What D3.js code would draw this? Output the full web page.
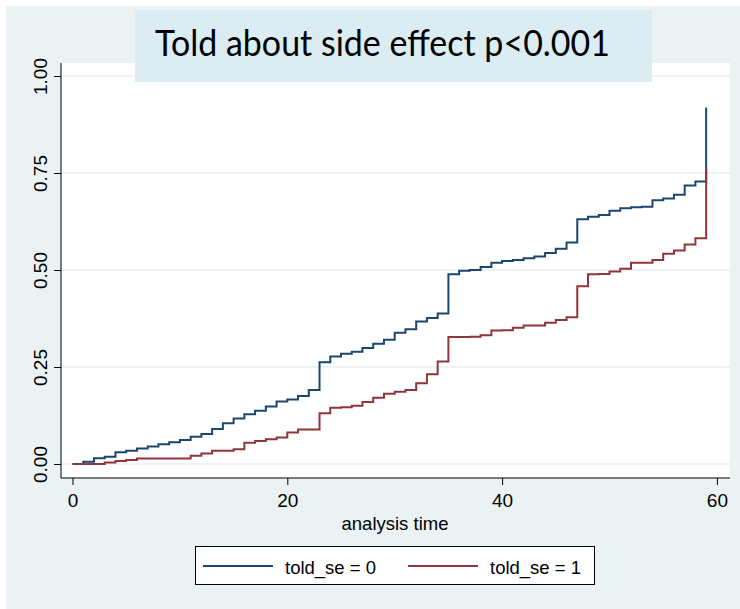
<!DOCTYPE html>
<html>
<head>
<meta charset="utf-8">
<script src="https://cdn.jsdelivr.net/npm/d3@7"></script>
<style>
  body { margin: 0; background: #ffffff; }
  svg { display: block; }
</style>
</head>
<body>
<svg id="chart" width="740" height="609"></svg>
<script>
// analysis time (months)
const times = d3.range(0, 60);

// failure estimates, told_se = 0
const told0 = [0, 0.006, 0.015, 0.019, 0.030, 0.034, 0.040, 0.045, 0.051, 0.056,
  0.062, 0.070, 0.077, 0.090, 0.105, 0.117, 0.128, 0.137, 0.148, 0.161,
  0.166, 0.175, 0.191, 0.262, 0.277, 0.284, 0.289, 0.299, 0.310, 0.320,
  0.338, 0.347, 0.367, 0.376, 0.388, 0.489, 0.498, 0.500, 0.508, 0.519,
  0.523, 0.526, 0.530, 0.535, 0.544, 0.555, 0.571, 0.631, 0.637, 0.642,
  0.653, 0.659, 0.662, 0.663, 0.680, 0.684, 0.694, 0.718, 0.728, 0.919];

// failure estimates, told_se = 1
const told1 = [0, 0, 0, 0.004, 0.008, 0.010, 0.014, 0.014, 0.014, 0.014,
  0.014, 0.021, 0.027, 0.034, 0.034, 0.038, 0.055, 0.059, 0.064, 0.068,
  0.081, 0.089, 0.089, 0.131, 0.145, 0.146, 0.150, 0.160, 0.171, 0.181,
  0.186, 0.191, 0.208, 0.231, 0.264, 0.327, 0.327, 0.328, 0.332, 0.344,
  0.345, 0.351, 0.357, 0.357, 0.364, 0.371, 0.378, 0.458, 0.489, 0.490,
  0.496, 0.503, 0.519, 0.519, 0.526, 0.542, 0.550, 0.566, 0.582, 0.760];

const xTicks = [0, 20, 40, 60];
const yTicks = [0, 0.25, 0.5, 0.75, 1];
const seriesNames = ["told_se = 0", "told_se = 1"];
const seriesColors = ["#1a476f", "#90353b"];
const titleText = "Told about side effect p<0.001";

const svg = d3.select("#chart");
const axisFont = "'Liberation Sans', Arial, sans-serif";

// graph region
svg.append("rect")
  .attr("x", 6).attr("y", 6)
  .attr("width", 734).attr("height", 603)
  .attr("fill", "#eaf2f3");

// plot region
const plot = {left: 61, top: 63, right: 730, bottom: 478};
svg.append("rect")
  .attr("x", plot.left).attr("y", plot.top)
  .attr("width", plot.right - plot.left)
  .attr("height", plot.bottom - plot.top)
  .attr("fill", "#ffffff");

const x = d3.scaleLinear().domain([0, 60]).range([72.5, 716.9]);
const y = d3.scaleLinear().domain([0, 1]).range([464, 76]);

// gridlines
svg.append("g")
  .selectAll("line")
  .data(yTicks)
  .join("line")
    .attr("x1", plot.left).attr("x2", plot.right)
    .attr("y1", d => y(d)).attr("y2", d => y(d))
    .attr("stroke", "#e8eff1")
    .attr("stroke-width", 1.5);

// title box (drawn over the top of the plot)
svg.append("rect")
  .attr("x", 135).attr("y", 10)
  .attr("width", 517).attr("height", 72)
  .attr("fill", "#dbecf2");

svg.append("text")
  .attr("x", 155)
  .attr("y", 56)
  .attr("textLength", 455)
  .attr("lengthAdjust", "spacingAndGlyphs")
  .style("font-family", "Lato, 'Open Sans', sans-serif")
  .style("font-size", "37px")
  .attr("fill", "#000000")
  .text(titleText);

// step curves
const line = d3.line()
  .curve(d3.curveStepAfter)
  .x(d => x(d[0]))
  .y(d => y(d[1]));

[told0, told1].forEach(function(vals, i) {
  svg.append("path")
    .datum(times.map((t, j) => [t, vals[j]]))
    .attr("fill", "none")
    .attr("stroke", seriesColors[i])
    .attr("stroke-width", 2)
    .attr("d", line);
});

// y axis
const yAxis = d3.axisLeft(y)
  .tickValues(yTicks)
  .tickSize(7)
  .tickFormat(d3.format(".2f"));

const gy = svg.append("g")
  .attr("transform", "translate(" + plot.left + ",0)")
  .call(yAxis);
gy.select(".domain")
  .attr("d", "M0," + plot.top + "V" + plot.bottom)
  .attr("stroke", "#000");
gy.selectAll(".tick line").attr("stroke", "#000");
gy.selectAll(".tick text")
  .attr("x", 0).attr("dy", null)
  .attr("transform", "translate(-21,0) rotate(-90)")
  .attr("text-anchor", "middle")
  .attr("dominant-baseline", "central")
  .style("font-family", axisFont)
  .style("font-size", "19px")
  .attr("fill", "#000");

// x axis
const xAxis = d3.axisBottom(x)
  .tickValues(xTicks)
  .tickSize(7)
  .tickFormat(d3.format("d"));

const gx = svg.append("g")
  .attr("transform", "translate(0," + plot.bottom + ")")
  .call(xAxis);
gx.select(".domain")
  .attr("d", "M" + plot.left + ",0H" + plot.right)
  .attr("stroke", "#000");
gx.selectAll(".tick line").attr("stroke", "#000");
gx.selectAll(".tick text")
  .attr("y", 29).attr("dy", null)
  .style("font-family", axisFont)
  .style("font-size", "19px")
  .attr("fill", "#000");

svg.append("text")
  .attr("x", 395)
  .attr("y", 530)
  .attr("text-anchor", "middle")
  .style("font-family", axisFont)
  .style("font-size", "18.5px")
  .attr("fill", "#000")
  .text("analysis time");

// legend
const legend = svg.append("g");
legend.append("rect")
  .attr("x", 195.5).attr("y", 546.5)
  .attr("width", 399).attr("height", 38)
  .attr("fill", "#ffffff")
  .attr("stroke", "#000")
  .attr("stroke-width", 1);

const legendX = [203, 408];
seriesNames.forEach(function(name, i) {
  legend.append("line")
    .attr("x1", legendX[i]).attr("x2", legendX[i] + 70)
    .attr("y1", 566).attr("y2", 566)
    .attr("stroke", seriesColors[i])
    .attr("stroke-width", 2);
  legend.append("text")
    .attr("x", legendX[i] + 82)
    .attr("y", 574)
    .style("font-family", axisFont)
    .style("font-size", "18.5px")
    .attr("fill", "#000")
    .text(name);
});
</script>
</body>
</html>
